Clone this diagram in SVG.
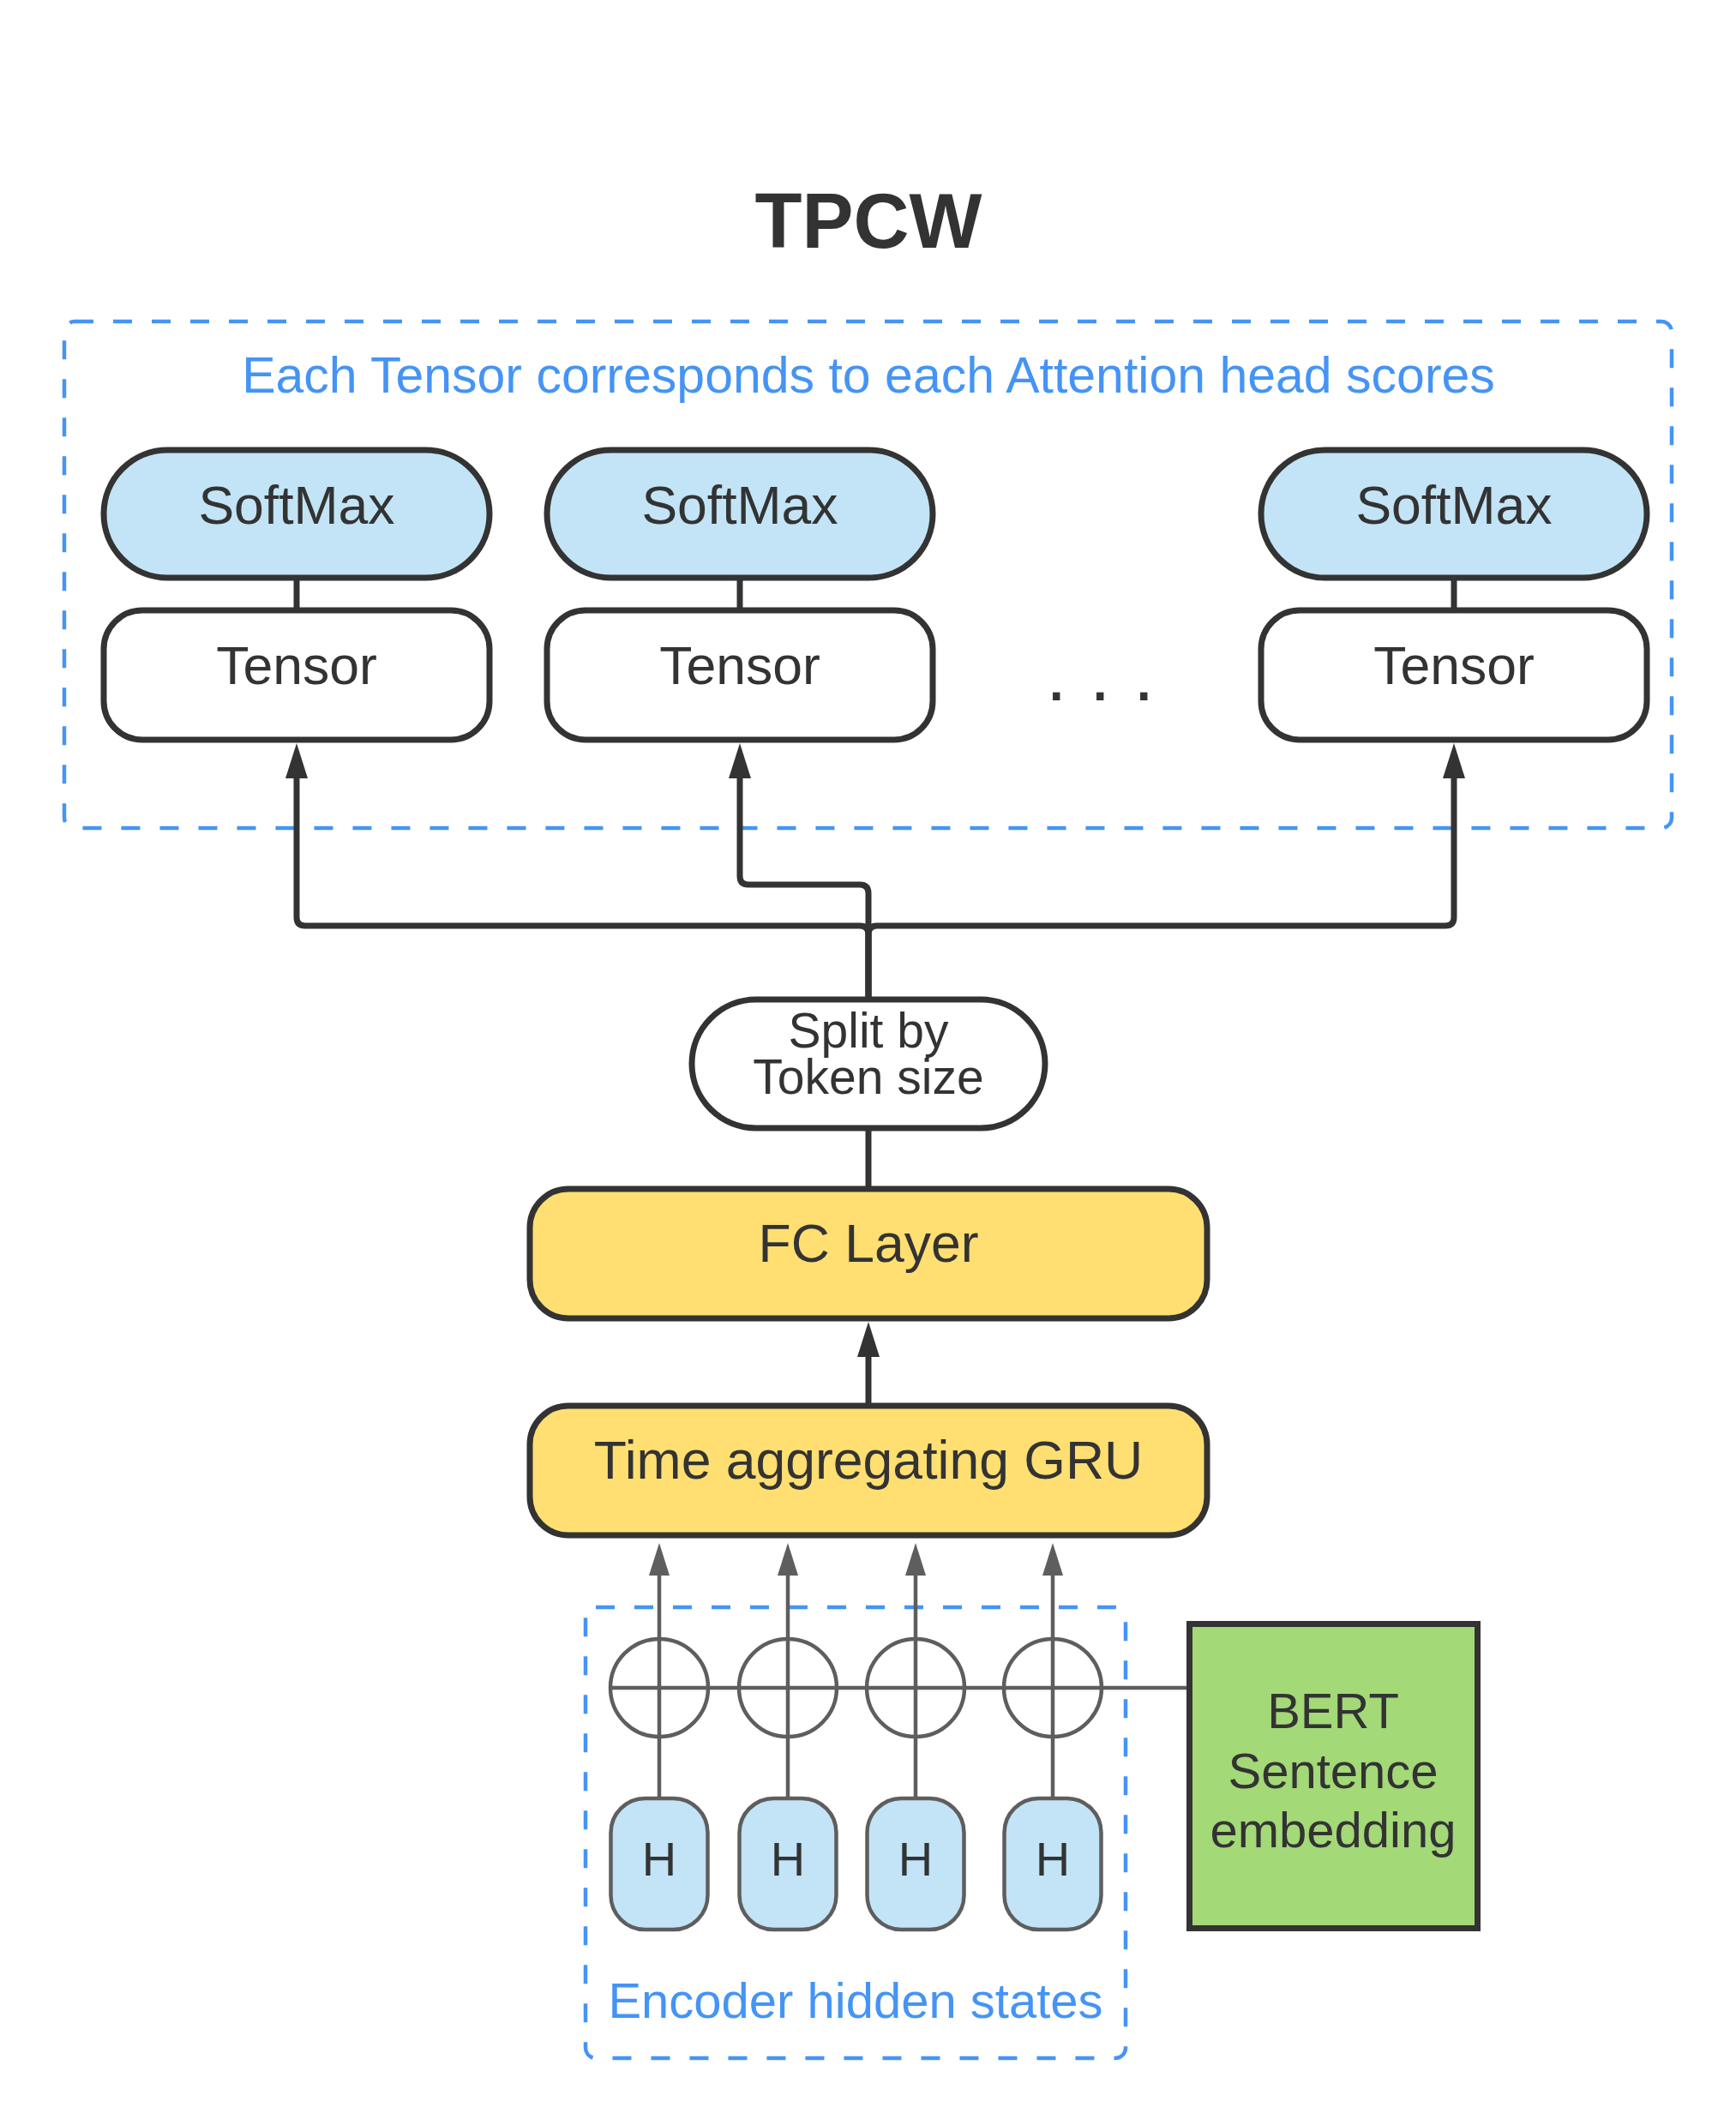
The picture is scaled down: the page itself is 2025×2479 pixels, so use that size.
<svg xmlns="http://www.w3.org/2000/svg" width="2025" height="2479" viewBox="0 0 2025 2479">
<style>
text{font-family:"Liberation Sans",Arial,sans-serif;fill:#333333;text-anchor:middle}
.title{font-size:90px;font-weight:bold}
.lbl{font-size:62.5px}
.blue{fill:#4594F5;font-size:59px}
.dash{fill:none;stroke:#4594F5;stroke-width:4.5;stroke-dasharray:22 23}
.soft{fill:#C2E4F6;stroke:#333333;stroke-width:7}
.tens{fill:#FFFFFF;stroke:#333333;stroke-width:7}
.yel{fill:#FFDF71;stroke:#333333;stroke-width:7}
.hbox{fill:#C2E4F6;stroke:#5E5E5E;stroke-width:4.5}
.conn{fill:none;stroke:#333333;stroke-width:7;stroke-linejoin:round}
.gconn{fill:none;stroke:#5E5E5E;stroke-width:4.5}
</style>
<defs>
<marker id="ah" viewBox="0 0 41 26" markerWidth="41" markerHeight="26" refX="0" refY="13" orient="auto" markerUnits="userSpaceOnUse">
<path d="M0,0 L41,13 L0,26 z" fill="#333333"/>
</marker>
<marker id="gah" viewBox="0 0 38 24" markerWidth="38" markerHeight="24" refX="0" refY="12" orient="auto" markerUnits="userSpaceOnUse">
<path d="M0,0 L38,12 L0,24 z" fill="#5E5E5E"/>
</marker>
</defs>
<rect width="2025" height="2479" fill="#FFFFFF"/>
<text class="title" x="1013" y="289">TPCW</text>
<g id="attention-group">
<rect class="dash" x="75" y="375" width="1875" height="591" rx="12"/>
<text class="blue" x="1013" y="458">Each Tensor corresponds to each Attention head scores</text>
</g>
<g id="encoder-group">
<rect class="dash" x="683" y="1875" width="630" height="526" rx="12"/>
<text class="blue" style="font-size:58px" x="998" y="2354">Encoder hidden states</text>
</g>
<g id="connectors">
<path class="conn" d="M346 674 V712"/>
<path class="conn" d="M863 674 V712"/>
<path class="conn" d="M1696 674 V712"/>
<path class="conn" d="M1013 1163 V1090 Q1013 1080 1003 1080 H356 Q346 1080 346 1070 V908" marker-end="url(#ah)"/>
<path class="conn" d="M1013 1163 V1042 Q1013 1032 1003 1032 H873 Q863 1032 863 1022 V908" marker-end="url(#ah)"/>
<path class="conn" d="M1013 1163 V1090 Q1013 1080 1023 1080 H1686 Q1696 1080 1696 1070 V908" marker-end="url(#ah)"/>
<path class="conn" d="M1013 1316 V1387"/>
<path class="conn" d="M1013 1640 V1583" marker-end="url(#ah)"/>
<path class="gconn" d="M711 1969 H1384"/>
<path class="gconn" d="M769 2098 V1838" marker-end="url(#gah)"/>
<path class="gconn" d="M919 2098 V1838" marker-end="url(#gah)"/>
<path class="gconn" d="M1068 2098 V1838" marker-end="url(#gah)"/>
<path class="gconn" d="M1228 2098 V1838" marker-end="url(#gah)"/>
</g>
<g id="softmax1"><rect class="soft" x="121" y="525" width="450" height="149" rx="74.5"/><text class="lbl" x="346" y="611">SoftMax</text></g>
<g id="softmax2"><rect class="soft" x="638" y="525" width="450" height="149" rx="74.5"/><text class="lbl" x="863" y="611">SoftMax</text></g>
<g id="softmax3"><rect class="soft" x="1471" y="525" width="450" height="149" rx="74.5"/><text class="lbl" x="1696" y="611">SoftMax</text></g>
<g id="tensor1"><rect class="tens" x="121" y="712" width="450" height="151" rx="45"/><text class="lbl" x="346" y="798">Tensor</text></g>
<g id="tensor2"><rect class="tens" x="638" y="712" width="450" height="151" rx="45"/><text class="lbl" x="863" y="798">Tensor</text></g>
<g id="tensor3"><rect class="tens" x="1471" y="712" width="450" height="151" rx="45"/><text class="lbl" x="1696" y="798">Tensor</text></g>
<g id="ellipsis"><text style="font-size:88px;text-anchor:start" x="1220 1245 1271 1296 1322" y="817">. . .</text></g>
<g id="split"><rect class="tens" x="807" y="1166" width="412" height="150" rx="75"/>
<text style="font-size:57px"><tspan x="1013" y="1222">Split by</tspan><tspan x="1013" y="1276">Token size</tspan></text></g>
<g id="fc-layer"><rect class="yel" x="618" y="1387" width="790" height="151" rx="45"/><text class="lbl" x="1013" y="1472">FC Layer</text></g>
<g id="gru"><rect class="yel" x="618" y="1640" width="790" height="151" rx="45"/><text class="lbl" x="1013" y="1725">Time aggregating GRU</text></g>
<g id="plus1"><circle class="gconn" cx="769" cy="1969" r="57"/></g>
<g id="plus2"><circle class="gconn" cx="919" cy="1969" r="57"/></g>
<g id="plus3"><circle class="gconn" cx="1068" cy="1969" r="57"/></g>
<g id="plus4"><circle class="gconn" cx="1228" cy="1969" r="57"/></g>
<g id="h1"><rect class="hbox" x="712.5" y="2098" width="113" height="153" rx="40"/><text style="font-size:56px" x="769" y="2188">H</text></g>
<g id="h2"><rect class="hbox" x="862.5" y="2098" width="113" height="153" rx="40"/><text style="font-size:56px" x="919" y="2188">H</text></g>
<g id="h3"><rect class="hbox" x="1011.5" y="2098" width="113" height="153" rx="40"/><text style="font-size:56px" x="1068" y="2188">H</text></g>
<g id="h4"><rect class="hbox" x="1171.5" y="2098" width="113" height="153" rx="40"/><text style="font-size:56px" x="1228" y="2188">H</text></g>
<g id="bert"><rect x="1387.5" y="1894.5" width="336" height="355" fill="#A3D977" stroke="#333333" stroke-width="7"/>
<text style="font-size:58px" x="1555" y="2016">BERT</text>
<text style="font-size:58px" x="1555" y="2086">Sentence</text>
<text style="font-size:58px" x="1555" y="2155">embedding</text></g>
</svg>
